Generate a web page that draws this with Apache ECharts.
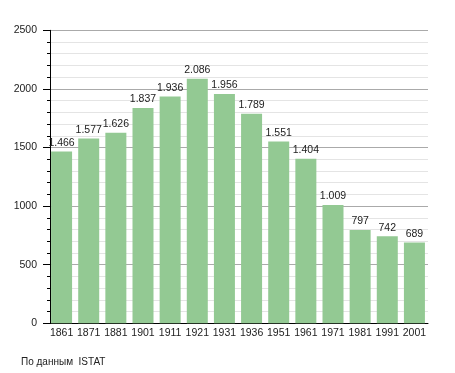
<!DOCTYPE html>
<html><head><meta charset="utf-8">
<script src="https://cdn.jsdelivr.net/npm/echarts@6/dist/echarts.min.js"></script>
<style>html,body{margin:0;padding:0;background:#fff}#c{width:455px;height:373px}</style>
</head><body><div id="c"></div>
<script>
const categories = ['1861','1871','1881','1901','1911','1921','1931','1936','1951','1961','1971','1981','1991','2001'];
const population = [1466,1577,1626,1837,1936,2086,1956,1789,1551,1404,1009,797,742,689];
const yTicks = [0,500,1000,1500,2000,2500];
const sourceNote = 'По данным  ISTAT';

const fmt = v => String(v).replace(/\B(?=(\d{3})+(?!\d))/g, '.');
const chart = echarts.init(document.getElementById('c'), null, {renderer:'canvas'});
chart.setOption({
  animation:false,
  textStyle:{fontFamily:'Liberation Sans, Arial, sans-serif'},
  grid:{left:48, right:27, top:30.3, bottom:373-323.3, containLabel:false},
  graphic:[{type:'text', left:21, top:357, style:{text:sourceNote, fontSize:10, fill:'#222', fontFamily:'Liberation Sans, Arial, sans-serif'}}],
  xAxis:{type:'category', data:categories, boundaryGap:true,
    axisLine:{lineStyle:{color:'#000', width:1}},
    axisTick:{show:false},
    axisLabel:{color:'#222', fontSize:10.5, margin:4, interval:0}},
  yAxis:{type:'value', min:yTicks[0], max:yTicks[yTicks.length-1], interval:500, offset:-2,
    axisLine:{show:true, lineStyle:{color:'#000', width:1}},
    axisTick:{show:true, inside:false, length:7, lineStyle:{color:'#000'}},
    minorTick:{show:true, splitNumber:5, length:3, lineStyle:{color:'#000'}},
    splitLine:{show:true, lineStyle:{color:'#aaa', width:1}},
    minorSplitLine:{show:true, lineStyle:{color:'#e4e4e4', width:1}},
    axisLabel:{color:'#222', fontSize:10.5, margin:13, formatter:v=>String(v)}},
  series:[{type:'bar', data:population, barWidth:21,
    itemStyle:{color:'#93c993'},
    label:{show:true, position:'top', distance:3, color:'#222', fontSize:10.5, formatter:p=>fmt(p.value)}}]
});
</script></body></html>
